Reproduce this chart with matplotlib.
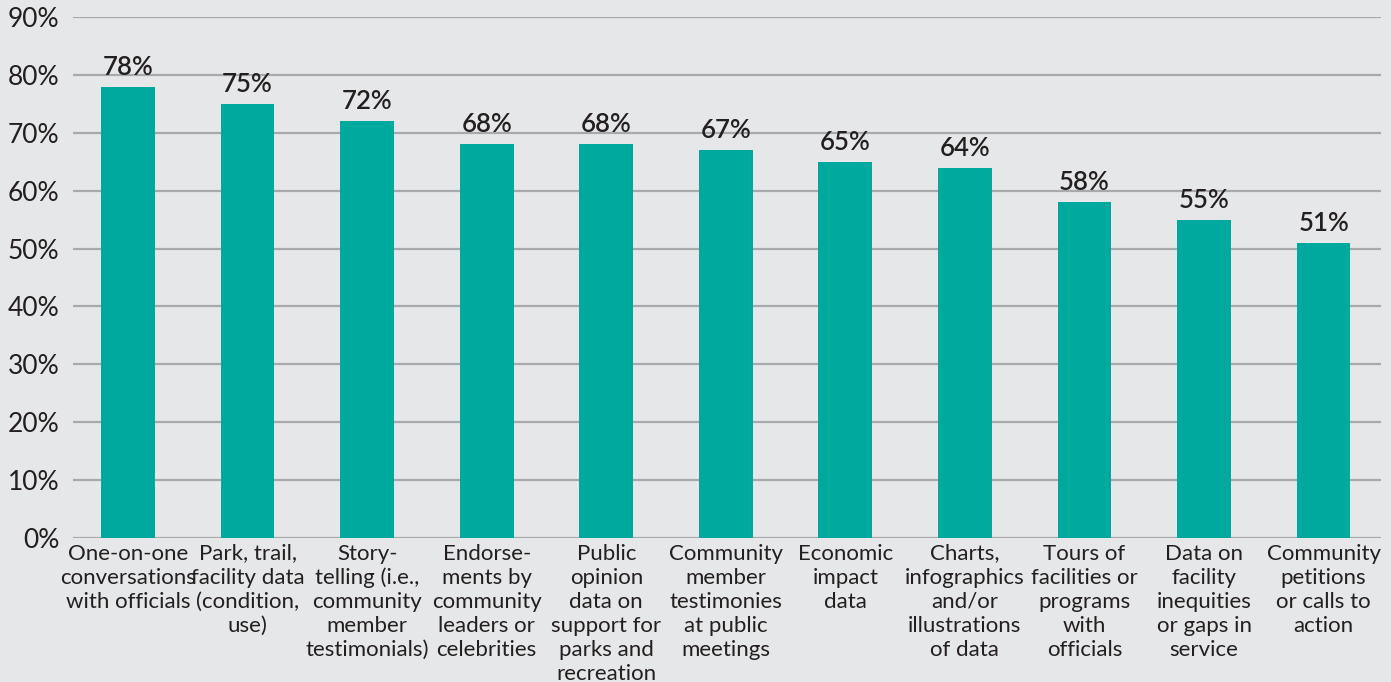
import matplotlib.pyplot as plt

categories = [
    "One-on-one\nconversations\nwith officials",
    "Park, trail,\nfacility data\n(condition,\nuse)",
    "Story-\ntelling (i.e.,\ncommunity\nmember\ntestimonials)",
    "Endorse-\nments by\ncommunity\nleaders or\ncelebrities",
    "Public\nopinion\ndata on\nsupport for\nparks and\nrecreation",
    "Community\nmember\ntestimonies\nat public\nmeetings",
    "Economic\nimpact\ndata",
    "Charts,\ninfographics\nand/or\nillustrations\nof data",
    "Tours of\nfacilities or\nprograms\nwith\nofficials",
    "Data on\nfacility\ninequities\nor gaps in\nservice",
    "Community\npetitions\nor calls to\naction",
]
values = [78, 75, 72, 68, 68, 67, 65, 64, 58, 55, 51]
yticks = [0, 10, 20, 30, 40, 50, 60, 70, 80, 90]

bg = "#e6e7e8"
teal = "#00a99d"
grid = "#a7a9ac"
ink = "#231f20"

fig = plt.figure(figsize=(13.91, 6.82), dpi=100, facecolor=bg)
ax = fig.add_axes([0.0525, 0.2111, 0.9403, 0.7639], facecolor=bg)

x = list(range(len(values)))
bars = ax.bar(x, values, width=0.45, color=teal, zorder=3)

# percentage labels above each bar
for b, v in zip(bars, values):
    ax.text(b.get_x() + b.get_width() / 2, v + 1.2, f"{v}%", ha="center", va="bottom",
            fontsize=18.5, fontweight="semibold", family="Lato", color=ink)

ax.set_xlim(-0.46, 10.48)
ax.set_ylim(0, 90)
ax.set_yticks(yticks)
ax.set_yticklabels([f"{t}%" for t in yticks], fontsize=19, family="Lato", color=ink)
ax.yaxis.grid(True, color=grid, linewidth=1.6, zorder=0)
ax.set_axisbelow(True)
ax.tick_params(axis="y", length=0, pad=10)
ax.tick_params(axis="x", length=0, pad=4)
ax.set_xticks(x)
ax.set_xticklabels(categories, fontsize=16, family="Lato", color=ink, linespacing=1.25)
for s in ax.spines.values():
    s.set_visible(False)

fig.savefig("out.png", dpi=100, facecolor=bg)
